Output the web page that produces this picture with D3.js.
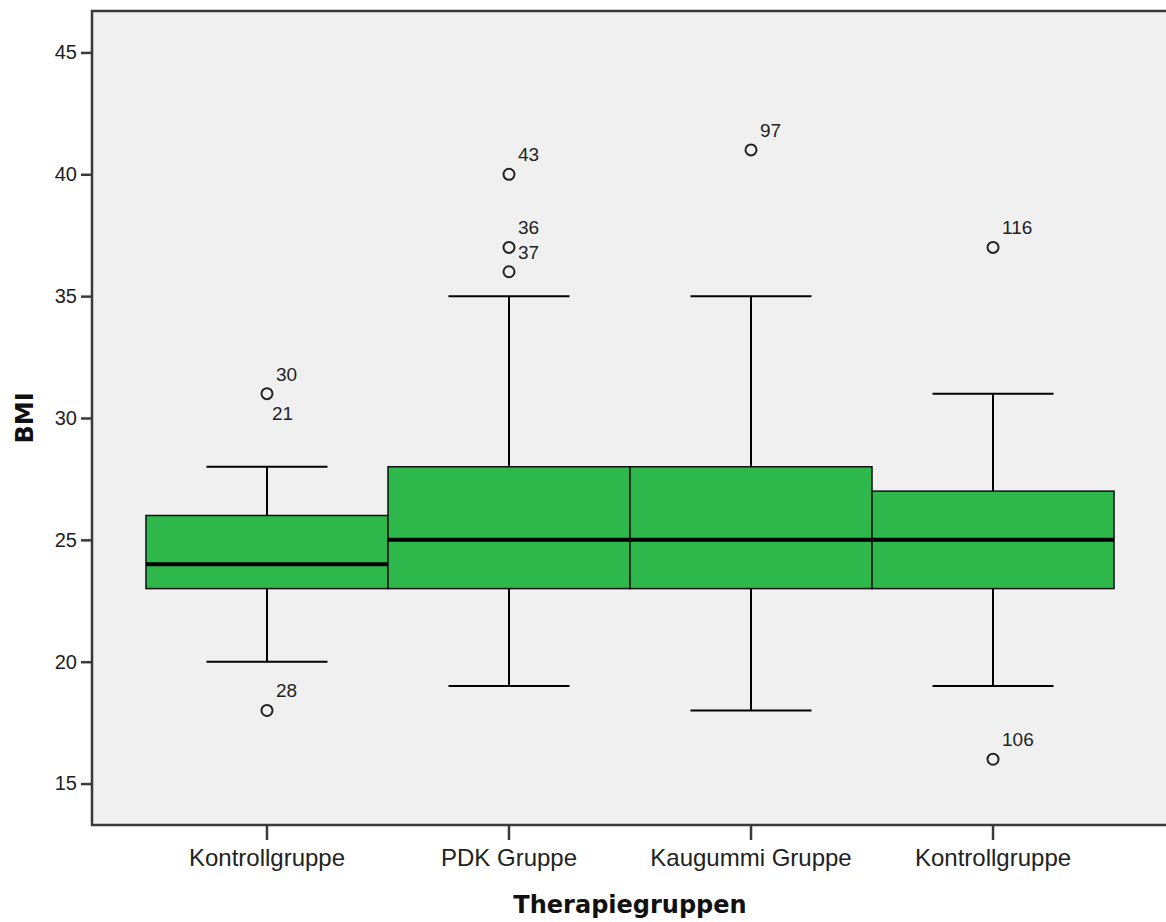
<!DOCTYPE html>
<html>
<head>
<meta charset="utf-8">
<script src="https://cdn.jsdelivr.net/npm/d3@7"></script>
<style>
  body { margin: 0; background: #fff; }
  svg { display: block; }
</style>
</head>
<body>
<svg id="chart" width="1166" height="922"></svg>
<script>
// Data
const groups = ['Kontrollgruppe', 'PDK Gruppe', 'Kaugummi Gruppe', 'Kontrollgruppe'];
const whiskerLow = [20, 19, 18, 19];
const q1 = [23, 23, 23, 23];
const median = [24, 25, 25, 25];
const q3 = [26, 28, 28, 27];
const whiskerHigh = [28, 35, 35, 31];
const yTicks = [15, 20, 25, 30, 35, 40, 45];

// outliers: group index, value, case label
const outGroup = [0, 0, 0, 1, 1, 1, 2, 3, 3];
const outValue = [31, 31, 18, 40, 37, 36, 41, 37, 16];
const outLabel = ['30', '21', '28', '43', '36', '37', '97', '116', '106'];

const svg = d3.select('#chart');
const plotLeft = 92, plotTop = 11, plotRight = 1168, plotBottom = 825;

const x = d3.scaleBand()
    .domain(d3.range(groups.length))
    .range([plotLeft, plotRight])
    .paddingInner(0)
    .paddingOuter(0.223);

const y = d3.scaleLinear()
    .domain([13.3, 46.7])
    .range([plotBottom, plotTop]);

const frame = '#3a3a3a';

// plot background
svg.append('rect')
    .attr('x', plotLeft).attr('y', plotTop)
    .attr('width', plotRight - plotLeft).attr('height', plotBottom - plotTop)
    .attr('fill', '#f0f0f0');

// boxes
const bw = x.bandwidth();
const g = svg.append('g');
groups.forEach((name, i) => {
    const cx = x(i) + bw / 2;
    // whiskers
    g.append('line')
        .attr('x1', cx).attr('x2', cx)
        .attr('y1', y(whiskerHigh[i])).attr('y2', y(q3[i]))
        .attr('stroke', '#000').attr('stroke-width', 2);
    g.append('line')
        .attr('x1', cx).attr('x2', cx)
        .attr('y1', y(q1[i])).attr('y2', y(whiskerLow[i]))
        .attr('stroke', '#000').attr('stroke-width', 2);
    [whiskerHigh[i], whiskerLow[i]].forEach(v => {
        g.append('line')
            .attr('x1', cx - bw / 4).attr('x2', cx + bw / 4)
            .attr('y1', y(v)).attr('y2', y(v))
            .attr('stroke', '#000').attr('stroke-width', 2);
    });
    g.append('rect')
        .attr('x', x(i)).attr('width', bw)
        .attr('y', y(q3[i])).attr('height', y(q1[i]) - y(q3[i]))
        .attr('fill', '#2eb84b')
        .attr('stroke', '#111').attr('stroke-width', 1.5);
    g.append('line')
        .attr('x1', x(i)).attr('x2', x(i) + bw)
        .attr('y1', y(median[i])).attr('y2', y(median[i]))
        .attr('stroke', '#000').attr('stroke-width', 4);
});

// outliers
const seen = {};
outValue.forEach((v, k) => {
    const i = outGroup[k];
    const cx = x(i) + bw / 2, cy = y(v);
    const key = i + '_' + v;
    const dup = seen[key];
    seen[key] = true;
    if (!dup) {
        g.append('circle')
            .attr('cx', cx).attr('cy', cy).attr('r', 5.5)
            .attr('fill', 'none')
            .attr('stroke', '#222').attr('stroke-width', 2);
    }
    g.append('text')
        .attr('x', cx + (dup ? 5 : 9))
        .attr('y', cy + (dup ? 26 : -13))
        .attr('font-family', 'Liberation Sans, Arial, sans-serif')
        .attr('font-size', 19)
        .attr('fill', '#222')
        .text(outLabel[k]);
});

// frame
svg.append('path')
    .attr('d', `M${plotRight},${plotTop}H${plotLeft}V${plotBottom}H${plotRight}`)
    .attr('fill', 'none')
    .attr('stroke', frame).attr('stroke-width', 2.5);

// y axis
const yAxis = svg.append('g')
    .attr('transform', `translate(${plotLeft},0)`)
    .call(d3.axisLeft(y).tickValues(yTicks).tickSize(11).tickPadding(4));
yAxis.select('.domain').remove();
yAxis.selectAll('.tick line').attr('stroke', frame).attr('stroke-width', 2.5);
yAxis.selectAll('.tick text')
    .attr('font-family', 'Liberation Sans, Arial, sans-serif')
    .attr('font-size', 20)
    .attr('fill', '#222');

// x axis
const xAxis = svg.append('g')
    .attr('transform', `translate(0,${plotBottom})`)
    .call(d3.axisBottom(x).tickSize(15).tickPadding(9).tickFormat(i => groups[i]));
xAxis.select('.domain').remove();
xAxis.selectAll('.tick line').attr('stroke', frame).attr('stroke-width', 2.5);
xAxis.selectAll('.tick text')
    .attr('font-family', 'Liberation Sans, Arial, sans-serif')
    .attr('font-size', 24)
    .attr('fill', '#222');

// axis titles
svg.append('text')
    .attr('x', (x(0) + x(groups.length - 1) + bw) / 2)
    .attr('y', 913)
    .attr('text-anchor', 'middle')
    .attr('font-family', 'DejaVu Sans, sans-serif')
    .attr('font-weight', 'bold')
    .attr('font-size', 24)
    .attr('fill', '#111')
    .text('Therapiegruppen');

svg.append('text')
    .attr('transform', `translate(33,${(plotTop + plotBottom) / 2}) rotate(-90)`)
    .attr('text-anchor', 'middle')
    .attr('font-family', 'DejaVu Sans, sans-serif')
    .attr('font-weight', 'bold')
    .attr('font-size', 24)
    .attr('fill', '#111')
    .text('BMI');
</script>
</body>
</html>
